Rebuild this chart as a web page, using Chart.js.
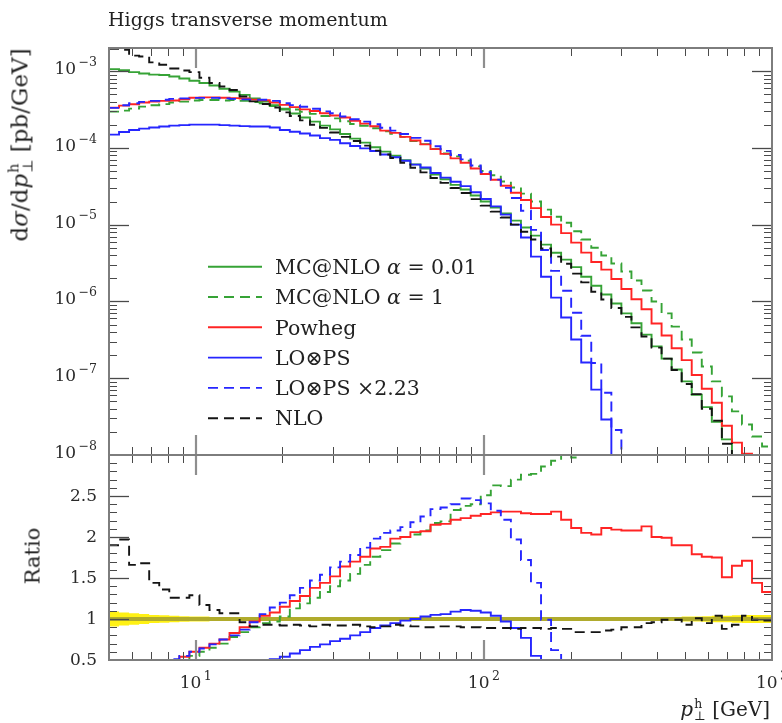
<!DOCTYPE html>
<html>
<head>
<meta charset="utf-8">
<title>Higgs transverse momentum</title>
<script src="https://cdn.jsdelivr.net/npm/chart.js@4.4.1/dist/chart.umd.min.js"></script>
<style>
  html, body { margin: 0; padding: 0; background: #ffffff; }
  #wrap { position: relative; width: 782px; height: 723px; overflow: hidden; background: #fff;
          font-family: "DejaVu Serif", "Liberation Serif", serif; color: #222; }
  #wrap canvas { position: absolute; left: 0; }
  .t { position: absolute; white-space: nowrap; line-height: 1; }
  .rot { transform: translate(-50%, -50%) rotate(-90deg); }
  .ss { display: inline-block; vertical-align: -0.3em; font-size: 0.62em; line-height: 0.95; text-align: left; margin-left: 1px; }
  .ss span { display: block; }
</style>
</head>
<body>
<div id="wrap">
  <canvas id="topChart" width="782" height="470" style="top:0;width:782px;height:470px"></canvas>
  <canvas id="ratioChart" width="782" height="283" style="top:440px;width:782px;height:283px"></canvas>
  <div class="t" id="title" style="left:108px;top:10px;font-size:19px;">Higgs transverse momentum</div>
  <div class="t rot" id="ytitle" style="left:21px;top:145px;font-size:23px;">d<i>σ</i>/d<i>p</i><span class="ss"><span>h</span><span>⊥</span></span> [pb/GeV]</div>
  <div class="t rot" id="rtitle" style="left:33px;top:556px;font-size:21px;">Ratio</div>
  <div class="t" id="xtitle" style="right:12px;top:698px;font-size:20px;"><i>p</i><span class="ss"><span>h</span><span>⊥</span></span> [GeV]</div>
  <div id="legend"></div>
</div>
<script>
// ---------------- DATA ----------------
// log-spaced p_T bin edges [GeV]
const binEdges = [5, 5.418, 5.871, 6.362, 6.894, 7.470, 8.095, 8.771, 9.505, 10.30, 11.16, 12.09, 13.10, 14.20, 15.39, 16.67, 18.07, 19.58, 21.21, 22.99, 24.91, 26.99, 29.25, 31.69, 34.34, 37.21, 40.32, 43.69, 47.35, 51.31, 55.60, 60.24, 65.28, 70.74, 76.65, 83.06, 90.01, 97.53, 105.7, 114.5, 124.1, 134.5, 145.7, 157.9, 171.1, 185.4, 200.9, 217.7, 235.9, 255.6, 277.0, 300.1, 325.2, 352.4, 381.9, 413.8, 448.4, 485.9, 526.5, 570.5, 618.2, 669.9, 725.9, 786.6, 852.4, 923.6, 1000];

// dsigma/dpT [pb/GeV] per bin
const mcnlo001 = [1.06e-3, 1.03e-3, 9.7e-4, 9.3e-4, 9.0e-4, 8.9e-4, 8.5e-4, 8.0e-4, 7.5e-4, 7.0e-4, 6.5e-4, 5.9e-4, 5.4e-4, 4.9e-4, 4.4e-4, 4.0e-4, 3.6e-4, 3.16e-4, 2.8e-4, 2.49e-4, 2.2e-4, 1.95e-4, 1.74e-4, 1.52e-4, 1.32e-4, 1.17e-4, 1.02e-4, 8.95e-5, 7.9e-5, 6.9e-5, 6.1e-5, 5.4e-5, 4.5e-5, 3.9e-5, 3.3e-5, 2.87e-5, 2.4e-5, 2.0e-5, 1.67e-5, 1.4e-5, 1.13e-5, 9.2e-6, 7.2e-6, 5.5e-6, 4.3e-6, 3.5e-6, 2.8e-6, 2.1e-6, 1.6e-6, 1.23e-6, 9.4e-7, 7.0e-7, 5.2e-7, 3.7e-7, 2.6e-7, 1.8e-7, 1.3e-7, 9.1e-8, 6.1e-8, 4.2e-8, 2.7e-8, 1.6e-8, 8e-9, 6e-9, 4e-9, 3e-9];
const mcnlo1 = [2.97e-4, 3.06e-4, 3.25e-4, 3.45e-4, 3.6e-4, 3.72e-4, 3.9e-4, 4.0e-4, 4.14e-4, 4.2e-4, 4.2e-4, 4.14e-4, 4.2e-4, 4.1e-4, 3.95e-4, 3.81e-4, 3.5e-4, 3.25e-4, 3.16e-4, 2.95e-4, 2.77e-4, 2.6e-4, 2.42e-4, 2.22e-4, 2.05e-4, 1.94e-4, 1.8e-4, 1.64e-4, 1.53e-4, 1.39e-4, 1.23e-4, 1.12e-4, 9.7e-5, 8.45e-5, 7.75e-5, 6.8e-5, 5.74e-5, 5.0e-5, 4.4e-5, 3.65e-5, 3.05e-5, 2.54e-5, 2.0e-5, 1.57e-5, 1.27e-5, 1.06e-5, 8.2e-6, 6.4e-6, 5.0e-6, 3.96e-6, 3.12e-6, 2.45e-6, 1.87e-6, 1.39e-6, 1.0e-6, 7.0e-7, 4.7e-7, 3.2e-7, 2.16e-7, 1.42e-7, 9.1e-8, 5.8e-8, 3.7e-8, 2.5e-8, 1.74e-8, 1.29e-8];
const powheg = [3.35e-4, 3.55e-4, 3.7e-4, 3.9e-4, 4.0e-4, 4.1e-4, 4.15e-4, 4.3e-4, 4.5e-4, 4.55e-4, 4.55e-4, 4.5e-4, 4.45e-4, 4.4e-4, 4.25e-4, 4.17e-4, 3.9e-4, 3.63e-4, 3.4e-4, 3.17e-4, 3.03e-4, 2.82e-4, 2.64e-4, 2.49e-4, 2.25e-4, 2.07e-4, 1.91e-4, 1.68e-4, 1.57e-4, 1.39e-4, 1.25e-4, 1.11e-4, 9.65e-5, 8.35e-5, 7.3e-5, 6.4e-5, 5.4e-5, 4.56e-5, 3.84e-5, 3.22e-5, 2.61e-5, 2.1e-5, 1.64e-5, 1.26e-5, 1.0e-5, 7.75e-6, 5.83e-6, 4.32e-6, 3.27e-6, 2.6e-6, 1.96e-6, 1.45e-6, 1.07e-6, 7.9e-7, 5.17e-7, 3.6e-7, 2.46e-7, 1.72e-7, 1.1e-7, 7.3e-8, 4.8e-8, 2.4e-8, 1.45e-8, 1.04e-8, 6e-9, 4e-9];
const lops = [1.49e-4, 1.61e-4, 1.71e-4, 1.78e-4, 1.84e-4, 1.9e-4, 1.95e-4, 1.98e-4, 2.01e-4, 2.01e-4, 2.01e-4, 1.98e-4, 1.95e-4, 1.92e-4, 1.9e-4, 1.9e-4, 1.84e-4, 1.71e-4, 1.62e-4, 1.54e-4, 1.45e-4, 1.34e-4, 1.27e-4, 1.15e-4, 1.06e-4, 9.85e-5, 9.1e-5, 8.2e-5, 7.55e-5, 6.8e-5, 6.06e-5, 5.55e-5, 4.7e-5, 4.1e-5, 3.63e-5, 3.18e-5, 2.64e-5, 2.16e-5, 1.73e-5, 1.35e-5, 1.0e-5, 6.8e-6, 3.84e-6, 2.1e-6, 1.12e-6, 6.17e-7, 3.19e-7, 1.6e-7, 7.1e-8, 2.9e-8, 9.5e-9, 1e-12, 1e-12, 1e-12, 1e-12, 1e-12, 1e-12, 1e-12, 1e-12, 1e-12, 1e-12, 1e-12, 1e-12, 1e-12, 1e-12, 1e-12];
const lops223 = [3.32e-4, 3.59e-4, 3.81e-4, 3.97e-4, 4.10e-4, 4.24e-4, 4.35e-4, 4.42e-4, 4.48e-4, 4.48e-4, 4.48e-4, 4.42e-4, 4.35e-4, 4.28e-4, 4.24e-4, 4.24e-4, 4.10e-4, 3.81e-4, 3.61e-4, 3.43e-4, 3.23e-4, 2.99e-4, 2.83e-4, 2.56e-4, 2.36e-4, 2.20e-4, 2.03e-4, 1.83e-4, 1.68e-4, 1.52e-4, 1.35e-4, 1.24e-4, 1.05e-4, 9.14e-5, 8.09e-5, 7.09e-5, 5.89e-5, 4.82e-5, 3.86e-5, 3.01e-5, 2.23e-5, 1.52e-5, 8.56e-6, 4.68e-6, 2.50e-6, 1.38e-6, 7.11e-7, 3.57e-7, 1.58e-7, 6.47e-8, 2.12e-8, 1e-12, 1e-12, 1e-12, 1e-12, 1e-12, 1e-12, 1e-12, 1e-12, 1e-12, 1e-12, 1e-12, 1e-12, 1e-12, 1e-12, 1e-12];
const nlo = [1.95e-3, 1.9e-3, 1.59e-3, 1.55e-3, 1.30e-3, 1.21e-3, 1.08e-3, 1.02e-3, 9.7e-4, 8.2e-4, 7.0e-4, 6.3e-4, 5.67e-4, 4.67e-4, 4.03e-4, 3.73e-4, 3.36e-4, 2.9e-4, 2.6e-4, 2.28e-4, 2.0e-4, 1.82e-4, 1.59e-4, 1.39e-4, 1.23e-4, 1.07e-4, 9.2e-5, 8.2e-5, 7.4e-5, 6.4e-5, 5.5e-5, 4.8e-5, 4.05e-5, 3.5e-5, 3.0e-5, 2.58e-5, 2.15e-5, 1.77e-5, 1.48e-5, 1.24e-5, 1.0e-5, 8.1e-6, 6.4e-6, 4.9e-6, 3.84e-6, 3.1e-6, 2.3e-6, 1.77e-6, 1.34e-6, 1.06e-6, 8.2e-7, 6.3e-7, 4.6e-7, 3.5e-7, 2.5e-7, 1.8e-7, 1.28e-7, 8.4e-8, 6.2e-8, 4.0e-8, 2.8e-8, 1.4e-8, 7e-9, 6e-9, 4e-9, 3e-9];

// ratios to MC@NLO alpha = 0.01
const rMcnlo1 = [0.28, 0.30, 0.32, 0.35, 0.38, 0.42, 0.46, 0.50, 0.55, 0.60, 0.65, 0.70, 0.78, 0.84, 0.90, 0.95, 0.97, 1.03, 1.13, 1.19, 1.26, 1.33, 1.40, 1.47, 1.55, 1.66, 1.76, 1.84, 1.92, 2.00, 2.03, 2.08, 2.17, 2.19, 2.33, 2.38, 2.40, 2.51, 2.63, 2.62, 2.70, 2.76, 2.77, 2.86, 2.93, 3.02, 2.97, 3.05, 3.1, 3.2, 3.3, 3.5, 3.6, 3.8, 3.8, 3.9, 3.6, 3.5, 3.5, 3.4, 3.4, 3.6, 4.6, 4.2, 4.4, 4.3];
const rPowheg = [0.31, 0.33, 0.35, 0.38, 0.41, 0.45, 0.49, 0.54, 0.60, 0.65, 0.70, 0.75, 0.83, 0.90, 0.97, 1.04, 1.08, 1.15, 1.22, 1.28, 1.38, 1.44, 1.52, 1.64, 1.70, 1.76, 1.86, 1.88, 1.98, 2.00, 2.06, 2.07, 2.15, 2.16, 2.21, 2.23, 2.26, 2.28, 2.30, 2.31, 2.31, 2.29, 2.28, 2.28, 2.31, 2.21, 2.11, 2.05, 2.03, 2.11, 2.09, 2.08, 2.08, 2.13, 2.00, 1.99, 1.90, 1.90, 1.79, 1.76, 1.75, 1.51, 1.65, 1.71, 1.44, 1.33];
const rLops = [0.14, 0.16, 0.18, 0.19, 0.20, 0.21, 0.23, 0.25, 0.27, 0.29, 0.31, 0.34, 0.36, 0.39, 0.43, 0.47, 0.51, 0.54, 0.58, 0.62, 0.66, 0.69, 0.73, 0.76, 0.80, 0.84, 0.89, 0.92, 0.95, 0.98, 1.00, 1.03, 1.05, 1.06, 1.09, 1.11, 1.10, 1.08, 1.04, 0.97, 0.89, 0.77, 0.55, 0.38, 0.26, 0.18, 0.11, 0.08, 0.04, 0.02, 0.01, 0, 0, 0, 0, 0, 0, 0, 0, 0, 0, 0, 0, 0, 0, 0];
const rLops223 = [0.32, 0.35, 0.39, 0.43, 0.45, 0.48, 0.51, 0.55, 0.60, 0.64, 0.69, 0.75, 0.80, 0.87, 0.96, 1.06, 1.14, 1.20, 1.29, 1.38, 1.47, 1.54, 1.63, 1.70, 1.78, 1.87, 1.98, 2.05, 2.08, 2.12, 2.18, 2.25, 2.34, 2.36, 2.40, 2.47, 2.45, 2.41, 2.32, 2.21, 1.97, 1.72, 1.44, 0.99, 0.62, 0.40, 0.25, 0.17, 0.10, 0.05, 0.02, 0, 0, 0, 0, 0, 0, 0, 0, 0, 0, 0, 0, 0, 0, 0];
const rNlo = [1.90, 1.97, 1.66, 1.68, 1.44, 1.36, 1.26, 1.26, 1.29, 1.17, 1.11, 1.07, 1.07, 0.96, 0.91, 0.93, 0.93, 0.92, 0.93, 0.92, 0.91, 0.93, 0.92, 0.92, 0.93, 0.91, 0.90, 0.91, 0.93, 0.92, 0.91, 0.90, 0.90, 0.91, 0.91, 0.90, 0.90, 0.89, 0.89, 0.89, 0.88, 0.89, 0.89, 0.88, 0.89, 0.88, 0.84, 0.84, 0.84, 0.86, 0.87, 0.90, 0.90, 0.95, 0.96, 0.99, 0.99, 0.93, 1.01, 0.95, 1.04, 0.88, 0.93, 1.04, 0.99, 0.98];
// relative uncertainty band of the reference (half width)
const refBandErr = [0.09, 0.08, 0.07, 0.06, 0.05, 0.045, 0.04, 0.035, 0.03, 0.03, 0.025, 0.025, 0.02, 0.02, 0.02, 0.02, 0.02, 0.02, 0.02, 0.02, 0.02, 0.02, 0.02, 0.02, 0.02, 0.02, 0.02, 0.02, 0.02, 0.02, 0.02, 0.02, 0.02, 0.02, 0.02, 0.02, 0.02, 0.02, 0.02, 0.02, 0.02, 0.02, 0.02, 0.02, 0.02, 0.02, 0.02, 0.02, 0.02, 0.02, 0.02, 0.02, 0.02, 0.02, 0.02, 0.02, 0.025, 0.03, 0.03, 0.035, 0.04, 0.04, 0.045, 0.05, 0.05, 0.05];

// tick labels
const topTickExps = [-3, -4, -5, -6, -7, -8];
const ratioTickValues = [0.5, 1, 1.5, 2, 2.5];
const ratioTickLabels = ['0.5', '1', '1.5', '2', '2.5'];
const xTickExps = [1, 2, 3];
const xMajorTicks = [10, 100];
const xMinorTicks = [6, 7, 8, 9, 20, 30, 40, 50, 60, 70, 80, 90, 200, 300, 400, 500, 600, 700, 800, 900];
const ratioMajorTicks = [1, 1.5, 2, 2.5];
const ratioMinorTicks = [0.6, 0.7, 0.8, 0.9, 1.1, 1.2, 1.3, 1.4, 1.6, 1.7, 1.8, 1.9, 2.1, 2.2, 2.3, 2.4, 2.6, 2.7, 2.8, 2.9];
const topMajorTicks = [1e-3, 1e-4, 1e-5, 1e-6, 1e-7];
const topMinorTicks = [1e-8, 1e-7, 1e-6, 1e-5, 1e-4, 1e-3]
  .flatMap(d => [2, 3, 4, 5, 6, 7, 8, 9].map(m => m * d)).filter(v => v < 1.95e-3);

// ---------------- STYLE ----------------
const FONT = '"DejaVu Serif", "Liberation Serif", serif';
const GREEN = '#36a336', RED = '#ff2424', BLUE = '#2626ff', BLACK = '#141414';
const DASH = [10, 6];
const LW = 1.9;

const SERIES = [
  { label: 'MC@NLO α = 0.01', color: GREEN, dash: [], top: mcnlo001, ratio: null, order: 5 },
  { label: 'MC@NLO α = 1', color: GREEN, dash: DASH, top: mcnlo1, ratio: rMcnlo1, order: 4 },
  { label: 'Powheg', color: RED, dash: [], top: powheg, ratio: rPowheg, order: 3 },
  { label: 'LO⊗PS', color: BLUE, dash: [], top: lops, ratio: rLops, order: 2 },
  { label: 'LO⊗PS ×2.23', color: BLUE, dash: DASH, top: lops223, ratio: rLops223, order: 1 },
  { label: 'NLO', color: BLACK, dash: DASH, top: nlo, ratio: rNlo, order: 0 }
];

function stepPoints(vals) {
  const pts = vals.map((v, i) => ({ x: binEdges[i], y: v }));
  pts.push({ x: binEdges[vals.length], y: vals[vals.length - 1] });
  return pts;
}
function lineDs(s, vals) {
  return { label: s.label, data: stepPoints(vals), borderColor: s.color, borderDash: s.dash,
           borderWidth: LW, stepped: 'before', pointRadius: 0, fill: false, order: s.order };
}

function seg(ctx, x1, y1, x2, y2) { ctx.beginPath(); ctx.moveTo(x1, y1); ctx.lineTo(x2, y2); ctx.stroke(); }

function drawFrame(chart, yMajor, yMinor) {
  const { ctx, chartArea: a, scales } = chart;
  const xs = scales.x, ys = scales.y;
  ctx.save();
  ctx.strokeStyle = '#4a4a4a'; ctx.lineWidth = 1;
  xMinorTicks.forEach(v => {
    const p = Math.round(xs.getPixelForValue(v)) + 0.5;
    seg(ctx, p, a.top, p, a.top + 8); seg(ctx, p, a.bottom, p, a.bottom - 8);
  });
  yMinor.forEach(v => {
    const p = Math.round(ys.getPixelForValue(v)) + 0.5;
    seg(ctx, a.left, p, a.left + 8, p); seg(ctx, a.right, p, a.right - 8, p);
  });
  ctx.lineWidth = 1.3;
  yMajor.forEach(v => {
    const p = Math.round(ys.getPixelForValue(v)) + 0.5;
    seg(ctx, a.left, p, a.left + 20, p); seg(ctx, a.right, p, a.right - 20, p);
  });
  ctx.strokeStyle = '#8e8e8e'; ctx.lineWidth = 2.2;
  xMajorTicks.forEach(v => {
    const p = Math.round(xs.getPixelForValue(v));
    seg(ctx, p, a.top, p, a.top + 20); seg(ctx, p, a.bottom, p, a.bottom - 20);
  });
  ctx.strokeStyle = '#7d7d7d'; ctx.lineWidth = 2;
  ctx.strokeRect(a.left, a.top, a.right - a.left, a.bottom - a.top);
  ctx.restore();
}

function drawPow(ctx, x, y, exp, align) {
  const base = '10';
  const sup = String(exp).replace('-', '\u2212');
  ctx.font = '17px ' + FONT;
  const wb = ctx.measureText(base).width;
  ctx.font = '12.5px ' + FONT;
  const ws = ctx.measureText(sup).width;
  const gap = 2.5;
  const total = wb + gap + ws;
  const left = align === 'right' ? x - total : x - total / 2;
  ctx.textAlign = 'left'; ctx.textBaseline = 'middle';
  ctx.font = '17px ' + FONT;
  ctx.fillText(base, left, y);
  ctx.font = '12.5px ' + FONT;
  ctx.fillText(sup, left + wb + gap, y - 7);
}

// ---------------- TOP PANEL ----------------
const LEGEND_Y0 = 266.7, LEGEND_DY = 30.3;
const topPlugin = {
  id: 'topFrame',
  afterDraw(chart) {
    drawFrame(chart, topMajorTicks, topMinorTicks);
    const { ctx, chartArea: a, scales: { y } } = chart;
    ctx.save();
    ctx.fillStyle = '#2a2a2a';
    topTickExps.forEach(e => drawPow(ctx, a.left - 12, y.getPixelForValue(Math.pow(10, e)) - 1.5, e, 'right'));
    // legend samples
    SERIES.forEach((s, i) => {
      const ly = LEGEND_Y0 + i * LEGEND_DY;
      ctx.strokeStyle = s.color; ctx.lineWidth = LW; ctx.setLineDash(s.dash);
      seg(ctx, 208, ly, 262, ly);
    });
    ctx.restore();
  }
};

new Chart(document.getElementById('topChart'), {
  type: 'line',
  data: { datasets: SERIES.map(s => lineDs(s, s.top)) },
  options: {
    responsive: false, animation: false, devicePixelRatio: 1,
    layout: { padding: { left: 109, right: 10, top: 48, bottom: 15 } },
    plugins: { legend: { display: false }, tooltip: { enabled: false } },
    scales: {
      x: { type: 'logarithmic', min: 5, max: 1000, display: false },
      y: { type: 'logarithmic', min: 1e-8, max: 2e-3, display: false }
    }
  },
  plugins: [topPlugin]
});

// ---------------- RATIO PANEL ----------------
const ratioPlugin = {
  id: 'ratioFrame',
  afterDatasetDraw(chart, args) {
    if (args.index !== 0) return;   // after the filled uncertainty band
    const { ctx, chartArea: a, scales: { y } } = chart;
    const p = y.getPixelForValue(1);
    ctx.save();
    ctx.strokeStyle = 'rgba(172,166,44,0.95)'; ctx.lineWidth = 4;
    seg(ctx, a.left, p, a.right, p);
    ctx.restore();
  },
  afterDraw(chart) {
    drawFrame(chart, ratioMajorTicks, ratioMinorTicks);
    const { ctx, chartArea: a, scales: { x, y } } = chart;
    ctx.save();
    ctx.fillStyle = '#2a2a2a';
    ctx.font = '17px ' + FONT; ctx.textAlign = 'right'; ctx.textBaseline = 'middle';
    ratioTickValues.forEach((v, i) => ctx.fillText(ratioTickLabels[i], a.left - 12, y.getPixelForValue(v) + 1));
    xTickExps.forEach(e => drawPow(ctx, x.getPixelForValue(Math.pow(10, e)), a.bottom + 24, e, 'center'));
    ctx.restore();
  }
};

const ratioDatasets = [
  { label: 'band+', data: stepPoints(refBandErr.map(e => 1 + e)), borderWidth: 0, pointRadius: 0,
    stepped: 'before', fill: '+1', backgroundColor: 'rgba(255,240,0,0.92)', order: 20 },
  { label: 'band-', data: stepPoints(refBandErr.map(e => 1 - e)), borderWidth: 0, pointRadius: 0,
    stepped: 'before', fill: false, order: 21 }
].concat(SERIES.filter(s => s.ratio).map(s => lineDs(s, s.ratio)));

new Chart(document.getElementById('ratioChart'), {
  type: 'line',
  data: { datasets: ratioDatasets },
  options: {
    responsive: false, animation: false, devicePixelRatio: 1,
    layout: { padding: { left: 109, right: 10, top: 15, bottom: 63 } },
    plugins: { legend: { display: false }, tooltip: { enabled: false } },
    scales: {
      x: { type: 'logarithmic', min: 5, max: 1000, display: false },
      y: { type: 'linear', min: 0.5, max: 3.0, display: false }
    }
  },
  plugins: [ratioPlugin]
});

// ---------------- LEGEND TEXT ----------------
const legendEl = document.getElementById('legend');
SERIES.forEach((s, i) => {
  const d = document.createElement('div');
  d.className = 't';
  d.style.left = '275px';
  d.style.top = (LEGEND_Y0 + i * LEGEND_DY - 9.8) + 'px';
  d.style.fontSize = '20.5px';
  d.innerHTML = s.label.replace('α', '<i>α</i>');
  legendEl.appendChild(d);
});
</script>
</body>
</html>
